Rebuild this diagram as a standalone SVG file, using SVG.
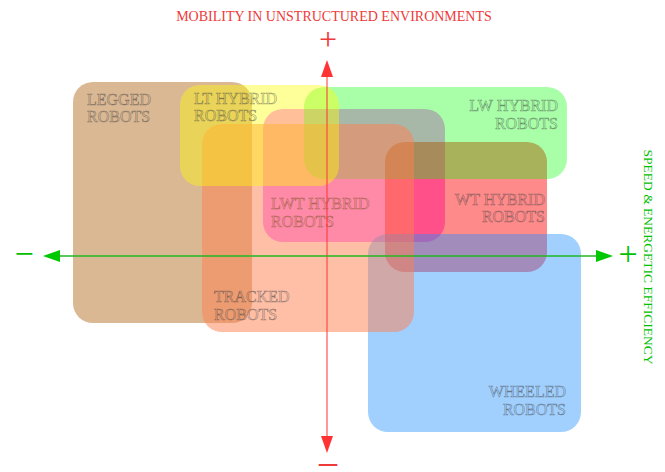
<svg xmlns="http://www.w3.org/2000/svg" width="665" height="472" viewBox="0 0 665 472">
<style>
.box{stroke:none}
.lbl{font-family:"Liberation Serif","Times New Roman",serif;font-size:16px;fill:none;stroke:#404040;stroke-opacity:0.6;stroke-width:0.55}
.r{text-anchor:end}
.ax{font-family:"Liberation Serif","Times New Roman",serif}
</style>
<defs>
<marker id="ahr" markerUnits="userSpaceOnUse" markerWidth="17" markerHeight="12" refX="0" refY="6" orient="auto-start-reverse">
<path d="M0,0 L17,6 L0,12 z" fill="#ff3333"/>
</marker>
<marker id="ahg" markerUnits="userSpaceOnUse" markerWidth="17" markerHeight="12" refX="0" refY="6" orient="auto-start-reverse">
<path d="M0,0 L17,6 L0,12 z" fill="#00c800"/>
</marker>
</defs>
<rect width="665" height="472" fill="#ffffff"/>

<g id="legged">
<rect class="box" x="73" y="82" width="179" height="241" rx="20" fill="#b77129" fill-opacity="0.5"/>
<text class="lbl" x="87" y="105">LEGGED</text>
<text class="lbl" x="87" y="122">ROBOTS</text>
</g>
<g id="lwt-hybrid">
<rect class="box" x="263" y="109" width="182" height="133" rx="20" fill="#ff00ff" fill-opacity="0.42"/>
<text class="lbl" x="271" y="209" style="stroke-opacity:0.9">LWT HYBRID</text>
<text class="lbl" x="271" y="227" style="stroke-opacity:0.9">ROBOTS</text>
</g>
<g id="wt-hybrid">
<rect class="box" x="385" y="142" width="162" height="130" rx="20" fill="#ff0000" fill-opacity="0.46"/>
<text class="lbl r" x="545" y="205">WT HYBRID</text>
<text class="lbl r" x="545" y="222">ROBOTS</text>
</g>
<g id="wheeled">
<rect class="box" x="368" y="234" width="213" height="198" rx="20" fill="#1e90ff" fill-opacity="0.42"/>
<text class="lbl r" x="566" y="397">WHEELED</text>
<text class="lbl r" x="566" y="415">ROBOTS</text>
</g>
<g id="lw-hybrid">
<rect class="box" x="304" y="87" width="263" height="92" rx="20" fill="#00ff00" fill-opacity="0.34"/>
<text class="lbl r" x="558" y="111">LW HYBRID</text>
<text class="lbl r" x="558" y="129">ROBOTS</text>
</g>
<g id="tracked">
<rect class="box" x="202" y="124" width="212" height="208" rx="20" fill="#ff7f50" fill-opacity="0.5"/>
<text class="lbl" x="214" y="302">TRACKED</text>
<text class="lbl" x="214" y="320">ROBOTS</text>
</g>
<g id="lt-hybrid">
<rect class="box" x="180" y="85" width="159" height="101" rx="20" fill="#ffff00" fill-opacity="0.4"/>
<text class="lbl" x="194" y="104">LT HYBRID</text>
<text class="lbl" x="194" y="121">ROBOTS</text>
</g>

<g id="connectors">
<line x1="327" y1="77" x2="327" y2="436" stroke="#ff3333" stroke-width="1" marker-start="url(#ahr)" marker-end="url(#ahr)"/>
<line x1="60" y1="256" x2="596" y2="256" stroke="#22b822" stroke-width="1.4" marker-start="url(#ahg)" marker-end="url(#ahg)"/>
</g>

<g id="axis-labels">
<text class="ax" x="334" y="21" font-size="14" fill="#ee3a3a" text-anchor="middle">MOBILITY IN UNSTRUCTURED ENVIRONMENTS</text>
<text class="ax" x="328" y="50" font-size="32" fill="#ee3a3a" text-anchor="middle">+</text>
<text class="ax" x="328" y="478" font-size="40" fill="#ee3a3a" text-anchor="middle">−</text>
<text class="ax" x="24" y="264.5" font-size="34" fill="#00c000" text-anchor="middle">−</text>
<text class="ax" x="628" y="264.5" font-size="34" fill="#00c000" text-anchor="middle">+</text>
<text class="ax" transform="translate(644,257) rotate(90)" font-size="13.5" fill="#00c000" text-anchor="middle">SPEED &amp; ENERGETIC EFFICIENCY</text>
</g>
</svg>
